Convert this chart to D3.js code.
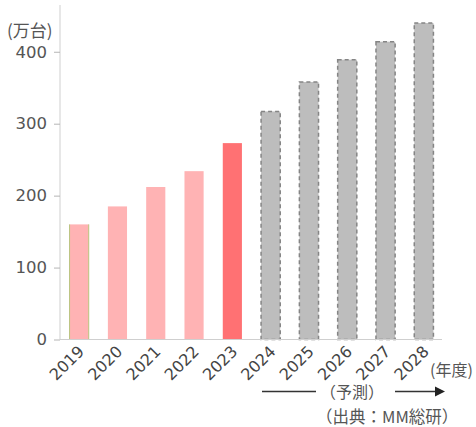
<!DOCTYPE html>
<html>
<head>
<meta charset="utf-8">
<script src="https://cdn.jsdelivr.net/npm/d3@7"></script>
<style>
  body { margin: 0; background: #fff; }
  svg { display: block; font-family: "Noto Sans CJK JP", "Noto Sans", sans-serif; }
</style>
</head>
<body>
<div id="chart"></div>
<script>
const years = ["2019", "2020", "2021", "2022", "2023", "2024", "2025", "2026", "2027", "2028"];
const units = [160, 185, 212, 234, 273, 317, 358, 389, 414, 440];
const kinds = ["past", "past", "past", "past", "latest", "forecast", "forecast", "forecast", "forecast", "forecast"];
const yTicks = [0, 100, 200, 300, 400];

const size = { width: 476, height: 427 };
const margin = { top: 5, bottom: 87.5, left: 60, right: 33 };

const svg = d3
  .select("#chart")
  .append("svg")
  .attr("width", size.width)
  .attr("height", size.height);

const data = years.map((year, i) => ({ year, value: units[i], kind: kinds[i] }));

const x = d3
  .scaleBand()
  .domain(years)
  .range([margin.left, size.width - margin.right])
  .paddingInner(0.5)
  .paddingOuter(0.25);

const y = d3
  .scaleLinear()
  .domain([0, 465])
  .range([size.height - margin.bottom, margin.top]);

const fills = { past: "#ffb3b4", latest: "#ff7173", forecast: "#bdbdbd" };

// bars
const bars = svg
  .append("g")
  .selectAll("rect")
  .data(data)
  .join("rect")
  .attr("x", (d) => x(d.year))
  .attr("width", x.bandwidth())
  .attr("y", (d) => y(d.value))
  .attr("height", (d) => y(0) - y(d.value))
  .attr("fill", (d) => fills[d.kind]);

bars
  .filter((d) => d.kind === "forecast")
  .attr("stroke", "#858585")
  .attr("stroke-width", 1.5)
  .attr("stroke-dasharray", "4,3");

// 2019 bar has thin greenish side edges only
bars
  .filter((d) => d.year === "2019")
  .attr("stroke", "#b9c47e")
  .attr("stroke-width", 1)
  .attr("stroke-dasharray", (d) => {
    const w = x.bandwidth();
    const h = y(0) - y(d.value);
    return `0,${w},${h},${w},${h}`;
  });

// y axis
const yAxis = svg
  .append("g")
  .attr("transform", `translate(${margin.left},0)`)
  .call(d3.axisLeft(y).tickValues(yTicks).tickSize(6).tickPadding(7));
yAxis.select(".domain").attr("stroke", "#cfcfcf").attr("d", `M0,${y(465)}V${y(0)}`);
yAxis.selectAll(".tick line").attr("stroke", "#b5b5b5");
yAxis
  .selectAll(".tick text")
  .attr("fill", "#555")
  .style("font-size", "16.5px")
  .style("font-family", "'DejaVu Sans', sans-serif");

svg
  .append("text")
  .text("(万台)")
  .attr("x", 7)
  .attr("y", 37)
  .attr("fill", "#555")
  .style("font-size", "17px");

// x axis
const xAxis = svg
  .append("g")
  .attr("transform", `translate(0,${y(0)})`)
  .call(d3.axisBottom(x).tickSize(0).tickPadding(0));
xAxis.select(".domain").attr("stroke", "#cfcfcf").attr("d", `M${margin.left},0H${size.width - 34}`);
xAxis
  .selectAll(".tick text")
  .attr("fill", "#444")
  .style("font-size", "16px")
  .style("font-family", "'DejaVu Sans', sans-serif")
  .attr("text-anchor", "end")
  .attr("dy", null)
  .attr("y", 0)
  .attr("transform", "translate(6,13) rotate(-45)");

svg
  .append("text")
  .text("(年度)")
  .attr("x", 430)
  .attr("y", 376)
  .attr("fill", "#555")
  .style("font-size", "16px");

// forecast arrow
const arrowY = 391.5;
svg
  .append("line")
  .attr("x1", 262)
  .attr("x2", 316)
  .attr("y1", arrowY)
  .attr("y2", arrowY)
  .attr("stroke", "#333")
  .attr("stroke-width", 1.5);
svg
  .append("line")
  .attr("x1", 395)
  .attr("x2", 436)
  .attr("y1", arrowY)
  .attr("y2", arrowY)
  .attr("stroke", "#333")
  .attr("stroke-width", 1.5);
svg
  .append("path")
  .attr("d", `M435,${arrowY - 5}L445,${arrowY}L435,${arrowY + 5}Z`)
  .attr("fill", "#222");
svg
  .append("text")
  .text("（予測）")
  .attr("x", 352)
  .attr("y", arrowY + 6)
  .attr("text-anchor", "middle")
  .attr("fill", "#555")
  .style("font-size", "16px");

svg
  .append("text")
  .text("（出典：MM総研）")
  .attr("x", 316)
  .attr("y", 423)
  .attr("fill", "#555")
  .style("font-size", "16.5px");
</script>
</body>
</html>
